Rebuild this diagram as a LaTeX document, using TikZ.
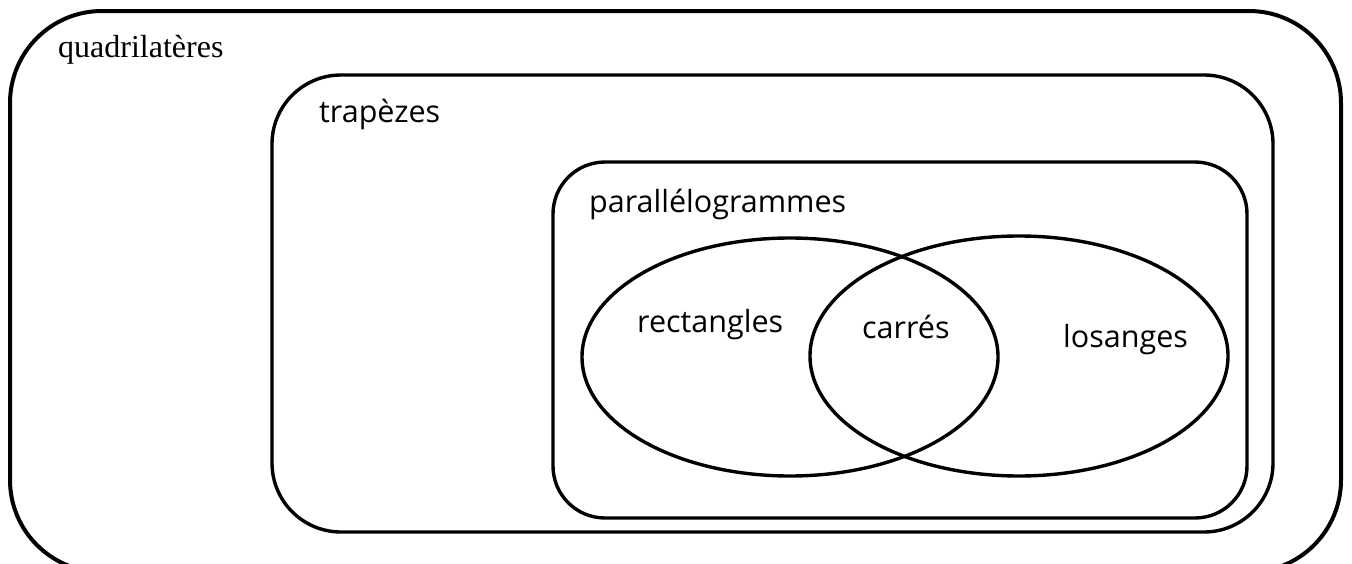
\documentclass[tikz,border=0pt]{standalone}
\usepackage{fontspec}
\setmainfont{Liberation Serif}
\newfontfamily\comicfont{Open Sans}
\begin{document}
\begin{tikzpicture}[x=1pt,y=-1pt,
  boxline/.style={draw=black, line width=3.4pt},
  outerline/.style={draw=black, line width=4pt},
  lbl/.style={anchor=base west, inner sep=0pt, font=\comicfont\fontsize{30.5}{37}\selectfont},
  serif/.style={anchor=base west, inner sep=0pt, font=\fontsize{32}{38}\selectfont}]
\useasboundingbox (0,0) rectangle (1352,563);
\begin{scope}
\clip (0,0) rectangle (1352,563);
\draw[outerline, rounded corners=92pt] (10,11) rectangle (1341,572);
\end{scope}
\draw[boxline, rounded corners=69pt] (272,75) rectangle (1273,532);
\draw[boxline, rounded corners=52pt] (553,162) rectangle (1247,518);
\draw[boxline] (790,357) ellipse [x radius=208pt, y radius=119pt];
\draw[boxline] (1019,356) ellipse [x radius=209pt, y radius=120pt];
\node[serif] (quad) at (58,57) {quadrilatères};
\node[lbl] (trap) at (319,122) {trapèzes};
\node[lbl] (para) at (589,212) {parallélogrammes};
\node[lbl] (rect) at (637,332) {rectangles};
\node[lbl] (carr) at (862,338) {carrés};
\node[lbl] (losa) at (1063,347) {losanges};
\end{tikzpicture}
\end{document}
